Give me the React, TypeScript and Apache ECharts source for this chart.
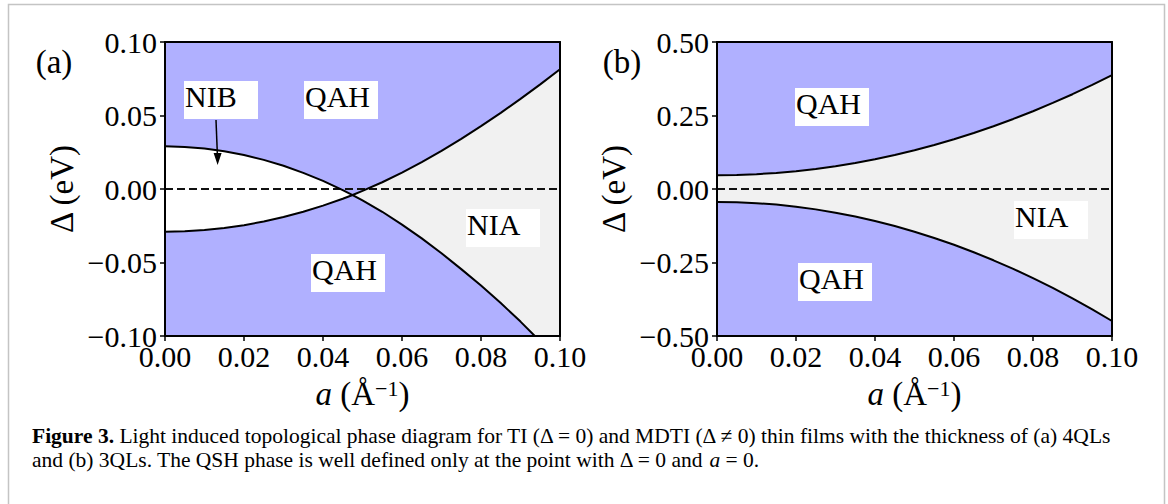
import React, { useEffect, useRef } from "react";
import * as echarts from "echarts";

// ---------- Panel (a): 4QLs ----------
const aValuesA = [0, 0.005, 0.01, 0.015, 0.02, 0.025, 0.03, 0.035, 0.04, 0.045, 0.0475, 0.05, 0.055, 0.06, 0.065, 0.07, 0.075, 0.08, 0.085, 0.09, 0.095, 0.1];
// boundary starting at +0.029 (descending)
const deltaA1 = [0.029, 0.0286, 0.0275, 0.0257, 0.0231, 0.0198, 0.0158, 0.011, 0.0055, -0.0008, -0.0041, -0.0078, -0.0155, -0.0242, -0.0336, -0.0437, -0.0545, -0.0657, -0.0776, -0.0902, -0.1037, -0.118];
// boundary starting at -0.029 (ascending)
const deltaA2 = [-0.029, -0.0287, -0.0279, -0.0265, -0.0246, -0.0221, -0.0191, -0.0155, -0.0113, -0.0066, -0.0041, -0.0013, 0.0046, 0.0111, 0.0183, 0.0259, 0.0341, 0.0428, 0.0518, 0.0613, 0.0712, 0.0815];
const crossIndexA = 10;

// ---------- Panel (b): 3QLs ----------
const aValuesB = [0, 0.005, 0.01, 0.015, 0.02, 0.025, 0.03, 0.035, 0.04, 0.045, 0.05, 0.055, 0.06, 0.065, 0.07, 0.075, 0.08, 0.085, 0.09, 0.095, 0.1];
const deltaBUpper = [0.047, 0.0479, 0.0504, 0.0547, 0.0606, 0.0683, 0.0776, 0.0887, 0.1014, 0.1159, 0.132, 0.1499, 0.1694, 0.1907, 0.2136, 0.2383, 0.2646, 0.2927, 0.3224, 0.3539, 0.387];
const deltaBLower = [-0.044, -0.045, -0.0481, -0.0531, -0.0602, -0.0693, -0.0805, -0.0936, -0.1088, -0.126, -0.1453, -0.1665, -0.1898, -0.2151, -0.2425, -0.2718, -0.3032, -0.3366, -0.3721, -0.4095, -0.449];

const xRange = [0, 0.1];
const xInterval = 0.02;
const yRangeA = [-0.1, 0.1];
const yIntervalA = 0.05;
const yRangeB = [-0.5, 0.5];
const yIntervalB = 0.25;
const zeroLevel = 0;

const captionLines = [
  "{b|Figure 3.} Light induced topological phase diagram for TI (Δ = 0) and MDTI (Δ ≠ 0) thin films with the thickness of (a) 4QLs",
  "and (b) 3QLs. The QSH phase is well defined only at the point with Δ = 0 and {i|a} = 0.",
];

const BLUE = "#b0b0ff";
const GRAY = "#f1f1f1";
const WHITE = "#ffffff";
const FONT = '"Liberation Serif", "Times New Roman", serif';

const pairs = (xs: number[], ys: number[]) => xs.map((x, i) => [x, ys[i]]);

const fmtX = (v: number) => v.toFixed(2);
const fmtY = (v: number) => {
  if (Math.abs(v) < 1e-9) return "0.00";
  return (v < 0 ? "\u2212" : "") + Math.abs(v).toFixed(2);
};

function polygon(xIdx: number, yIdx: number, upper: number[][], lower: number[][], color: string) {
  return {
    type: "custom",
    xAxisIndex: xIdx,
    yAxisIndex: yIdx,
    clip: true,
    silent: true,
    z: 1,
    data: [[0, 0]],
    renderItem: (_params: any, api: any) => {
      const pts = [...upper, ...lower.slice().reverse()].map((p) => api.coord(p));
      return { type: "polygon", shape: { points: pts }, style: { fill: color } };
    },
  };
}

function curve(xIdx: number, yIdx: number, data: number[][]) {
  return {
    type: "line",
    xAxisIndex: xIdx,
    yAxisIndex: yIdx,
    data,
    showSymbol: false,
    symbol: "none",
    silent: true,
    z: 4,
    lineStyle: { color: "#000", width: 2 },
  };
}

function zeroLine(xIdx: number, yIdx: number) {
  return {
    type: "line",
    xAxisIndex: xIdx,
    yAxisIndex: yIdx,
    data: [[xRange[0], zeroLevel], [xRange[1], zeroLevel]],
    showSymbol: false,
    symbol: "none",
    silent: true,
    z: 3,
    lineStyle: { color: "#111", width: 2, type: [8, 4] },
  };
}

const axisLineStyle = { show: true, onZero: false, lineStyle: { color: "#000", width: 2 } };

function xAxes(gridIndex: number) {
  return [
    {
      type: "value",
      gridIndex,
      position: "bottom",
      min: xRange[0],
      max: xRange[1],
      interval: xInterval,
      z: 10,
      axisLine: axisLineStyle,
      axisTick: { show: true, inside: false, length: 5, lineStyle: { color: "#000", width: 1.5 } },
      axisLabel: { color: "#000", fontSize: 30, fontFamily: FONT, margin: 5, formatter: fmtX },
      splitLine: { show: false },
      name: "{i|a} (Å{s|\u22121})",
      nameLocation: "middle",
      nameGap: 41,
      nameTextStyle: {
        color: "#000",
        fontSize: 33,
        fontFamily: FONT,
        rich: {
          i: { fontSize: 33, fontFamily: FONT, fontStyle: "italic", color: "#000" },
          s: { fontSize: 22, fontFamily: FONT, color: "#000", verticalAlign: "top", lineHeight: 17 },
        },
      },
    },
    {
      type: "value",
      gridIndex,
      position: "top",
      min: xRange[0],
      max: xRange[1],
      interval: xInterval,
      z: 10,
      axisLine: axisLineStyle,
      axisTick: { show: false },
      axisLabel: { show: false },
      splitLine: { show: false },
    },
  ];
}

function yAxes(gridIndex: number, range: number[], interval: number) {
  return [
    {
      type: "value",
      gridIndex,
      position: "left",
      min: range[0],
      max: range[1],
      interval,
      z: 10,
      axisLine: axisLineStyle,
      axisTick: { show: true, inside: false, length: 5, lineStyle: { color: "#000", width: 1.5 } },
      axisLabel: { color: "#000", fontSize: 30, fontFamily: FONT, margin: 8, formatter: fmtY },
      splitLine: { show: false },
      name: "Δ (eV)",
      nameLocation: "middle",
      nameGap: 87,
      nameTextStyle: { color: "#000", fontSize: 33, fontFamily: FONT },
    },
    {
      type: "value",
      gridIndex,
      position: "right",
      min: range[0],
      max: range[1],
      interval,
      z: 10,
      axisLine: axisLineStyle,
      axisTick: { show: false },
      axisLabel: { show: false },
      splitLine: { show: false },
    },
  ];
}

function labelBox(x: number, y: number, text: string) {
  return [
    { type: "rect", z: 100, shape: { x, y, width: 74, height: 38 }, style: { fill: "#fff" } },
    {
      type: "text",
      z: 101,
      x: x + 1,
      y: y + 15,
      style: { text, font: `30px ${FONT}`, fill: "#000", verticalAlign: "middle", align: "left" },
    },
  ];
}

export default function App() {
  const ref = useRef<HTMLDivElement>(null);

  useEffect(() => {
    if (!ref.current) return;
    const chart = echarts.init(ref.current, undefined, { renderer: "svg" });

    const a1 = pairs(aValuesA, deltaA1);
    const a2 = pairs(aValuesA, deltaA2);
    const bU = pairs(aValuesB, deltaBUpper);
    const bL = pairs(aValuesB, deltaBLower);

    const option: any = {
      animation: false,
      grid: [
        { left: 165, top: 42, width: 395, height: 294, show: true, backgroundColor: BLUE, borderWidth: 0 },
        { left: 717, top: 42, width: 395, height: 294, show: true, backgroundColor: BLUE, borderWidth: 0 },
      ],
      xAxis: [...xAxes(0), ...xAxes(1)],
      yAxis: [...yAxes(0, yRangeA, yIntervalA), ...yAxes(1, yRangeB, yIntervalB)],
      series: [
        // panel (a)
        polygon(0, 0, a1.slice(0, crossIndexA + 1), a2.slice(0, crossIndexA + 1), WHITE),
        polygon(0, 0, a2.slice(crossIndexA), a1.slice(crossIndexA), GRAY),
        zeroLine(0, 0),
        curve(0, 0, a1),
        curve(0, 0, a2),
        // panel (b)
        polygon(2, 2, bU, bL, GRAY),
        zeroLine(2, 2),
        curve(2, 2, bU),
        curve(2, 2, bL),
      ],
      graphic: [
        { type: "rect", z: 0, shape: { x: 8.5, y: 4.5, width: 1156, height: 520 }, style: { fill: "none", stroke: "#c4c4c4", lineWidth: 1.5 } },
        { type: "text", z: 100, x: 54, y: 62, style: { text: "(a)", font: `33px ${FONT}`, fill: "#000", align: "center", verticalAlign: "middle" } },
        { type: "text", z: 100, x: 622, y: 62, style: { text: "(b)", font: `33px ${FONT}`, fill: "#000", align: "center", verticalAlign: "middle" } },
        ...labelBox(184, 81, "NIB"),
        ...labelBox(304, 81, "QAH"),
        ...labelBox(311, 254, "QAH"),
        ...labelBox(466, 209, "NIA"),
        ...labelBox(795, 88, "QAH"),
        ...labelBox(798, 263, "QAH"),
        ...labelBox(1014, 201, "NIA"),
        { type: "line", z: 102, shape: { x1: 216, y1: 120, x2: 217.4, y2: 155 }, style: { stroke: "#000", lineWidth: 1.5 } },
        { type: "polygon", z: 102, shape: { points: [[217.6, 165], [213.6, 153], [221.6, 153]] }, style: { fill: "#000" } },
        {
          type: "text",
          z: 100,
          x: 32,
          y: 424,
          style: {
            text: captionLines.join("\n"),
            font: `21.5px ${FONT}`,
            lineHeight: 24,
            fill: "#000",
            verticalAlign: "top",
            rich: {
              b: { fontWeight: "bold", fontSize: 21.5, lineHeight: 24, fontFamily: FONT, fill: "#000" },
              i: { fontStyle: "italic", fontSize: 21.5, lineHeight: 24, fontFamily: FONT, fill: "#000" },
            },
          },
        },
      ],
    };

    chart.setOption(option);
    return () => chart.dispose();
  }, []);

  return <div ref={ref} style={{ position: "fixed", left: 0, top: 0, width: 1168, height: 504, background: "#fff" }} />;
}
